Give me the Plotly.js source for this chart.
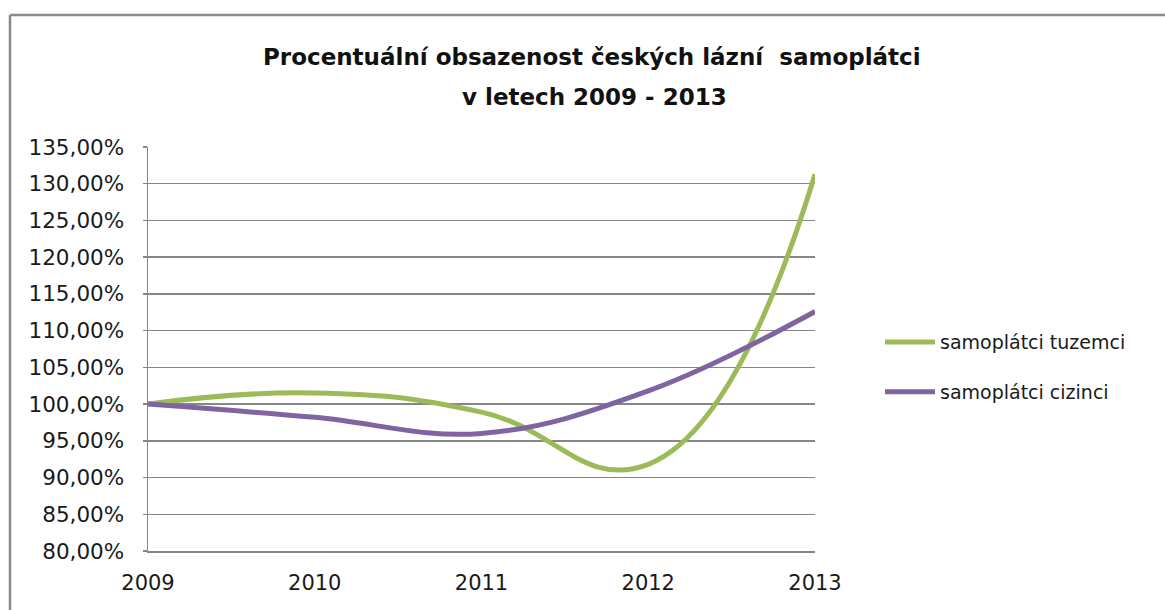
<!DOCTYPE html>
<html>
<head>
<meta charset="utf-8">
<script src="https://cdn.plot.ly/plotly-3.0.1.min.js"></script>
<style>
html,body{margin:0;padding:0;background:#fff;}
#chart{width:1165px;height:610px;}
</style>
</head>
<body>
<div id="chart"></div>
<script>
const years = [2009, 2010, 2011, 2012, 2013];
const tuzemci = [1.000, 1.015, 0.989, 0.918, 1.313];
const cizinci = [1.000, 0.982, 0.960, 1.018, 1.126];
const seriesNames = ['samoplátci tuzemci', 'samoplátci cizinci'];
const titleLines = ['Procentuální obsazenost českých lázní\u00A0 samoplátci', 'v letech 2009 - 2013'];

const FONT = 'DejaVu Sans, Liberation Sans, sans-serif';
const traces = [
  {x: years, y: tuzemci, name: seriesNames[0], type: 'scatter', mode: 'lines',
   line: {color: '#9BBB59', width: 5, shape: 'spline', smoothing: 1.3}, legendgroup: 'a'},
  {x: years, y: cizinci, name: seriesNames[1], type: 'scatter', mode: 'lines',
   line: {color: '#8064A2', width: 5, shape: 'spline', smoothing: 1.1}, legendgroup: 'b'}
];

const layout = {
  width: 1165, height: 610,
  margin: {l: 148, r: 350, t: 147, b: 59},
  paper_bgcolor: '#ffffff', plot_bgcolor: '#ffffff',
  separators: ',.',
  font: {family: FONT, color: '#1a1a1a'},
  title: {text: titleLines[0], font: {family: FONT, size: 23, color: '#111', weight: 'bold'},
          x: 0.508, xanchor: 'center', y: 1 - 57 / 610, yanchor: 'middle', xref: 'container', yref: 'container'},
  annotations: [
    {text: titleLines[1], xref: 'paper', yref: 'paper', x: (594 - 148) / 667, y: (551 - 97) / 404,
     xanchor: 'center', yanchor: 'middle', showarrow: false,
     font: {family: FONT, size: 23, color: '#111', weight: 'bold'}}
  ],
  xaxis: {range: [2009, 2013], tickmode: 'array', tickvals: years, ticktext: years.map(String),
          showgrid: false, zeroline: false, showline: true, linecolor: '#868686', linewidth: 1.5,
          ticks: '', tickfont: {family: FONT, size: 21, color: '#1a1a1a'}, ticklabelstandoff: 12},
  yaxis: {range: [0.80, 1.35], dtick: 0.05, tick0: 0.80, tickformat: '.2%',
          showgrid: true, gridcolor: '#868686', gridwidth: 1.5, zeroline: false,
          showline: true, linecolor: '#868686', linewidth: 1.5,
          ticks: 'outside', ticklen: 4, tickcolor: '#868686', tickwidth: 1.5,
          ticklabelstandoff: 14,
          tickfont: {family: FONT, size: 21.5, color: '#1a1a1a'}},
  legend: {x: (880 - 148) / 667, xanchor: 'left', y: 0.455, yanchor: 'middle', tracegroupgap: 22,
           itemwidth: 50,
           font: {family: FONT, size: 19, color: '#1a1a1a'}, bgcolor: 'rgba(0,0,0,0)'},
  shapes: [
    {type: 'line', xref: 'paper', yref: 'paper', x0: -0.2069, x1: 1.53, y0: 1.3267, y1: 1.3267,
     line: {color: '#8a8a8a', width: 2.5}},
    {type: 'line', xref: 'paper', yref: 'paper', x0: -0.2069, x1: -0.2069, y0: 1.3267, y1: -0.16,
     line: {color: '#8a8a8a', width: 2.5}}
  ]
};

Plotly.newPlot('chart', traces, layout, {displayModeBar: false, staticPlot: true});
</script>
</body>
</html>
